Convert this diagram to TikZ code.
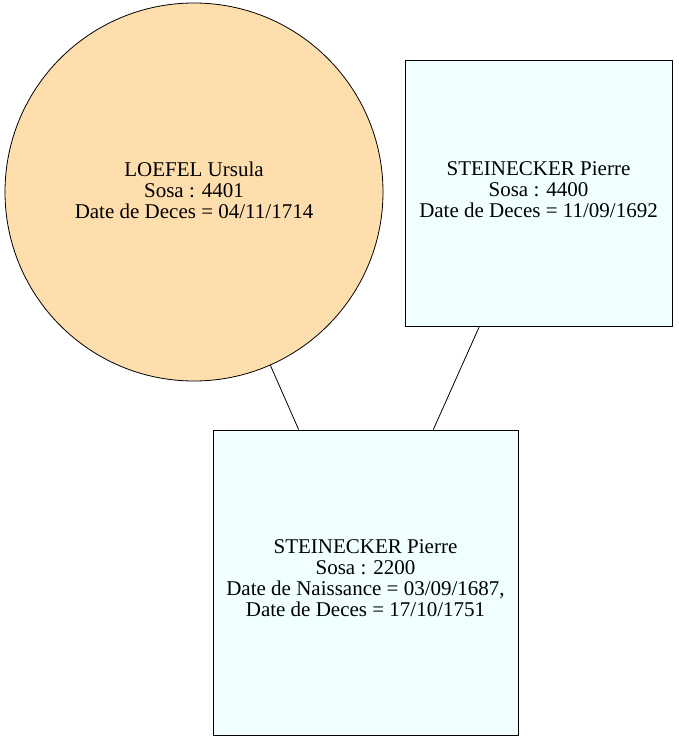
\documentclass[tikz,border=0pt]{standalone}
\usepackage{fontspec}
\setmainfont{Liberation Serif}
\definecolor{circfill}{HTML}{FFDEAD}
\definecolor{boxfill}{HTML}{F0FFFF}
\tikzset{
  person/.style={draw=black, line width=0.8pt, inner sep=0pt},
  circperson/.style={person, circle, fill=circfill, minimum size=378pt},
  boxperson/.style={person, rectangle, fill=boxfill},
  persontext/.style={align=center, inner sep=0pt, font=\fontsize{21}{21}\selectfont},
  link/.style={draw=black, line width=0.8pt}
}
\begin{document}
\begin{tikzpicture}[x=1pt,y=-1pt]
\useasboundingbox (0,0) rectangle (678,741);
\node[circperson] (loefel) at (194,192) {};
\node[persontext] (loefeltext) at (194,190) {LOEFEL Ursula\\Sosa : 4401\\Date de Deces = 04/11/1714};
\node[boxperson, minimum width=267pt, minimum height=266pt] (pierre1) at (538.5,193) {};
\node[persontext] (pierre1text) at (538.5,190) {STEINECKER Pierre\\Sosa : 4400\\Date de Deces = 11/09/1692};
\node[boxperson, minimum width=305pt, minimum height=305pt] (pierre2) at (365.5,582.5) {};
\node[persontext] (pierre2text) at (365.5,578) {STEINECKER Pierre\\Sosa : 2200\\Date de Naissance = 03/09/1687,\\Date de Deces = 17/10/1751};
\draw[link] (loefel) -- (pierre2);
\draw[link] (pierre1) -- (pierre2);
\end{tikzpicture}
\end{document}
